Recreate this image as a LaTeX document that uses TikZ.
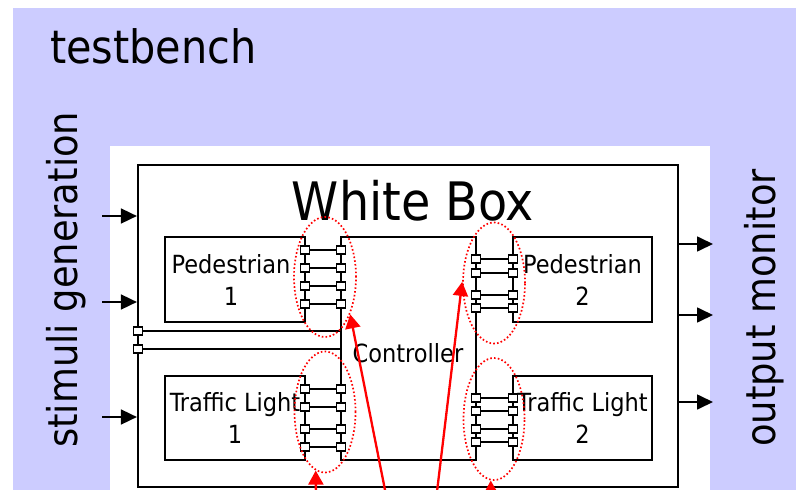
\documentclass[tikz,border=0pt]{standalone}
\usepackage{fontspec}
\setmainfont{DejaVu Sans Condensed}
\usetikzlibrary{shapes.geometric,arrows.meta}
\definecolor{bench}{HTML}{CCCCFF}
\definecolor{probe}{HTML}{FF0000}
\begin{document}
\begin{tikzpicture}[x=1pt,y=-1pt,
  block/.style={draw=black, line width=2.2pt, rectangle, inner sep=0pt},
  port/.style={draw=black, fill=white, line width=1.4pt, rectangle, inner sep=0pt,
               minimum width=9pt, minimum height=8pt},
  wire/.style={draw=black, line width=1.8pt},
  sig/.style={draw=black, line width=1.7pt, -{Triangle[length=16pt,width=15pt]}},
  group/.style={draw=probe, ellipse, line width=1.7pt, dash pattern=on 1.6pt off 2.2pt, inner sep=0pt},
  hint/.style={draw=probe, line width=2.3pt, -{Triangle[length=14pt,width=15pt]}},
  lbl/.style={font=\fontsize{25}{32}\selectfont, align=center, inner sep=0pt},
  side/.style={font=\fontsize{41}{41}\selectfont, rotate=90, anchor=base west, inner sep=0pt}
]
\useasboundingbox (0,0) rectangle (796,490);

% testbench area and the white working area
\fill[bench] (13,8) rectangle (800,495);
\fill[white] (110,146) rectangle (710,495);

\node[font=\fontsize{46}{46}\selectfont, anchor=base west, inner sep=0pt] (tb) at (50,63) {testbench};
\node[side] (stim) at (77,448) {stimuli generation};
\node[side] (mon) at (775,447) {output monitor};

% white box and its blocks
\node[block, minimum width=540pt, minimum height=322pt] (wb) at (408,326) {};
\node[font=\fontsize{53}{53}\selectfont, anchor=base, inner sep=0pt] (title) at (413,220) {White Box};

\node[block, minimum width=135pt, minimum height=223pt] (ctrl) at (408.5,348.5) {};
\node[block, minimum width=140pt, minimum height=85pt] (ped1) at (235,279.5) {};
\node[block, minimum width=139pt, minimum height=85pt] (ped2) at (582.5,279.5) {};
\node[block, minimum width=140pt, minimum height=84pt] (tl1) at (235,418) {};
\node[block, minimum width=139pt, minimum height=84pt] (tl2) at (582.5,418) {};

\node[lbl, xshift=-4pt] (ped1t) at (ped1) {Pedestrian\\1};
\node[lbl] (ped2t) at (ped2) {Pedestrian\\2};
\node[lbl] (tl1t) at (tl1) {Traffic Light\\1};
\node[lbl] (tl2t) at (tl2) {Traffic Light\\2};
\node[font=\fontsize{25}{25}\selectfont, anchor=base, inner sep=0pt] (ctrlt) at (408,362) {Controller};

% inputs and outputs of the white box
\coordinate (i1) at (102,216);
\coordinate (i2) at (102,302);
\coordinate (i3) at (102,417);
\foreach \n in {i1,i2,i3} \draw[sig] (\n) -- (\n -| wb.west);
\coordinate (o1) at (713,244);
\coordinate (o2) at (713,315);
\coordinate (o3) at (713,402);
\foreach \n in {o1,o2,o3} \draw[sig] (\n -| wb.east) -- (\n);

% direct inputs of the controller
\node[port] (w1) at (138,331) {};
\node[port] (w2) at (138,349) {};
\draw[wire] (w1) -- (w1 -| ctrl.west);
\draw[wire] (w2) -- (w2 -| ctrl.west);

% port pairs between blocks and controller
\foreach \i/\y in {1/250,2/268,3/286,4/304} {
  \node[port] (pa\i) at (305,\y) {};
  \node[port] (ca\i) at (341,\y) {};
  \draw[wire] (pa\i) -- (ca\i);
}
\foreach \i/\y in {1/259,2/273,3/295,4/308} {
  \node[port] (cb\i) at (476,\y) {};
  \node[port] (pb\i) at (513,\y) {};
  \draw[wire] (cb\i) -- (pb\i);
}
\foreach \i/\y in {1/389,2/407,3/429,4/447} {
  \node[port] (ta\i) at (305,\y) {};
  \node[port] (cc\i) at (341,\y) {};
  \draw[wire] (ta\i) -- (cc\i);
}
\foreach \i/\y in {1/398,2/411,3/429,4/442} {
  \node[port] (cd\i) at (476,\y) {};
  \node[port] (tb\i) at (513,\y) {};
  \draw[wire] (cd\i) -- (tb\i);
}

% interface groups
\node[group, minimum width=62pt, minimum height=120pt] (e1) at (325,277) {};
\node[group, minimum width=62pt, minimum height=121pt] (e2) at (494,283) {};
\node[group, minimum width=61pt, minimum height=121pt] (e3) at (325,412) {};
\node[group, minimum width=61pt, minimum height=122pt] (e4) at (494,419) {};

% pointers to the interface groups
\coordinate (s1) at (387,500);
\coordinate (s2) at (436,500);
\coordinate (s3) at (316,500);
\coordinate (s4) at (491,500);
\draw[hint] (s1) -- (e1.-56);
\draw[hint] (s2) -- (e2.178);
\draw[hint] (s3) -- (e3.261);
\draw[hint] (s4) -- (e4.267);
\end{tikzpicture}
\end{document}
